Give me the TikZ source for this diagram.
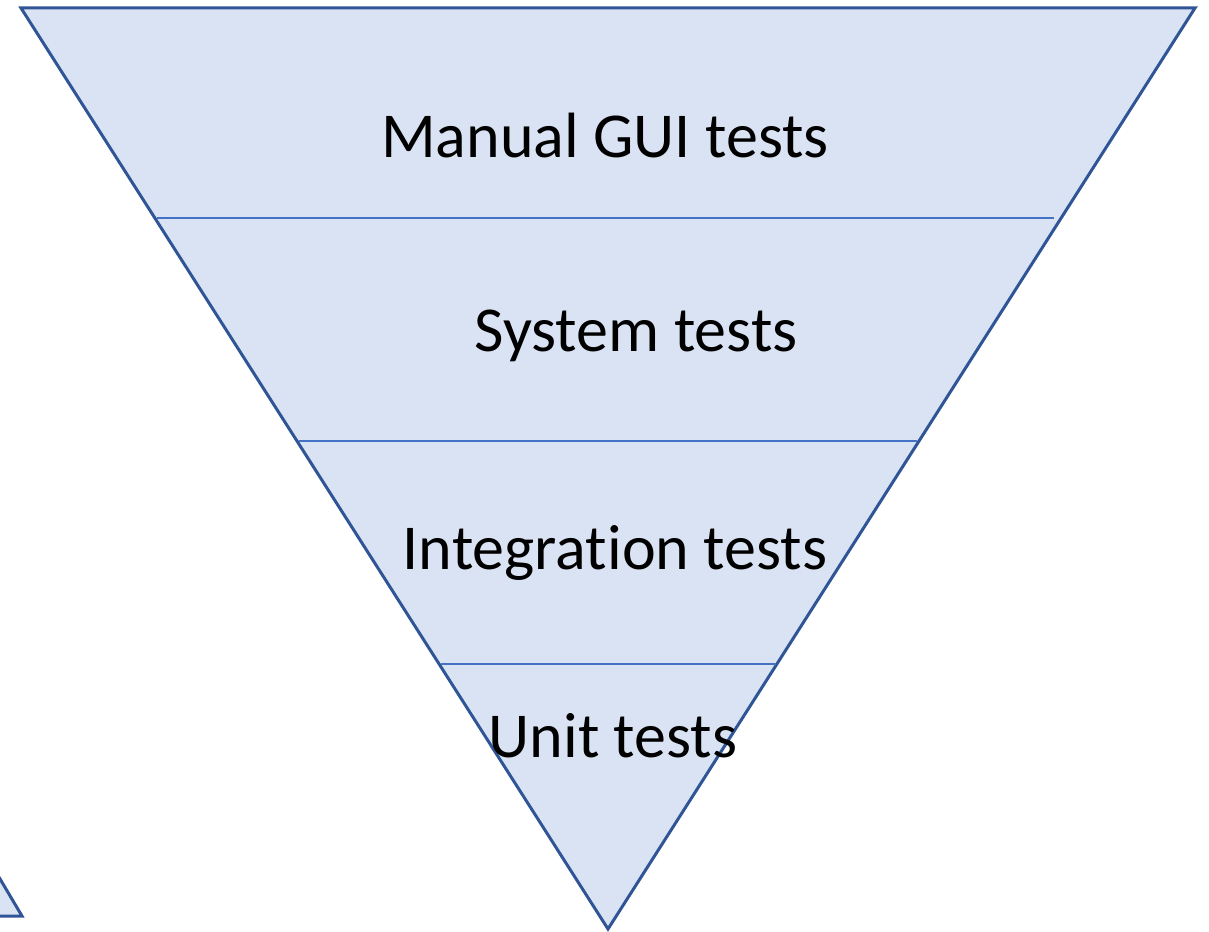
\documentclass[tikz,border=0pt]{standalone}
\usepackage{fontspec}
\setmainfont[Ligatures=NoCommon]{Carlito}
\usepackage{tikz}

\definecolor{pyrfill}{RGB}{218,227,243}
\definecolor{pyrline}{RGB}{47,85,151}
\definecolor{layline}{RGB}{68,114,196}

\begin{document}
\begin{tikzpicture}[x=0.5pt,y=0.5pt,yscale=-1,xscale=1]
\useasboundingbox (0,0) rectangle (1209,931);

%Shape: Triangle [id:inverted]
\draw [color=pyrline, fill=pyrfill, line width=1.5]  (21,8) -- (1195,8) -- (608,929) -- cycle ;
%Shape: Triangle [id:corner piece]
\draw [color=pyrline, fill=pyrfill, line width=1.5]  (-10,862) -- (22,916) -- (-10,916) ;
%Straight Lines [id:layer1]
\draw [color=layline, line width=1]  (157,218) -- (1054,218) ;
%Straight Lines [id:layer2]
\draw [color=layline, line width=1]  (299,441) -- (917,441) ;
%Straight Lines [id:layer3]
\draw [color=layline, line width=1]  (441,664) -- (776,664) ;

% Text Node
\draw (605,136) node [inner sep=0.75pt] (manual)  {\fontsize{32}{38}\selectfont Manual GUI tests};
% Text Node
\draw (636,336) node [inner sep=0.75pt] (system)  {\fontsize{32}{38}\selectfont System tests};
% Text Node
\draw (615,553) node [inner sep=0.75pt] (integ)  {\fontsize{32}{38}\selectfont Integration tests};
% Text Node
\draw (613,736) node [inner sep=0.75pt] (unit)  {\fontsize{32}{38}\selectfont Unit tests};
\end{tikzpicture}
\end{document}
